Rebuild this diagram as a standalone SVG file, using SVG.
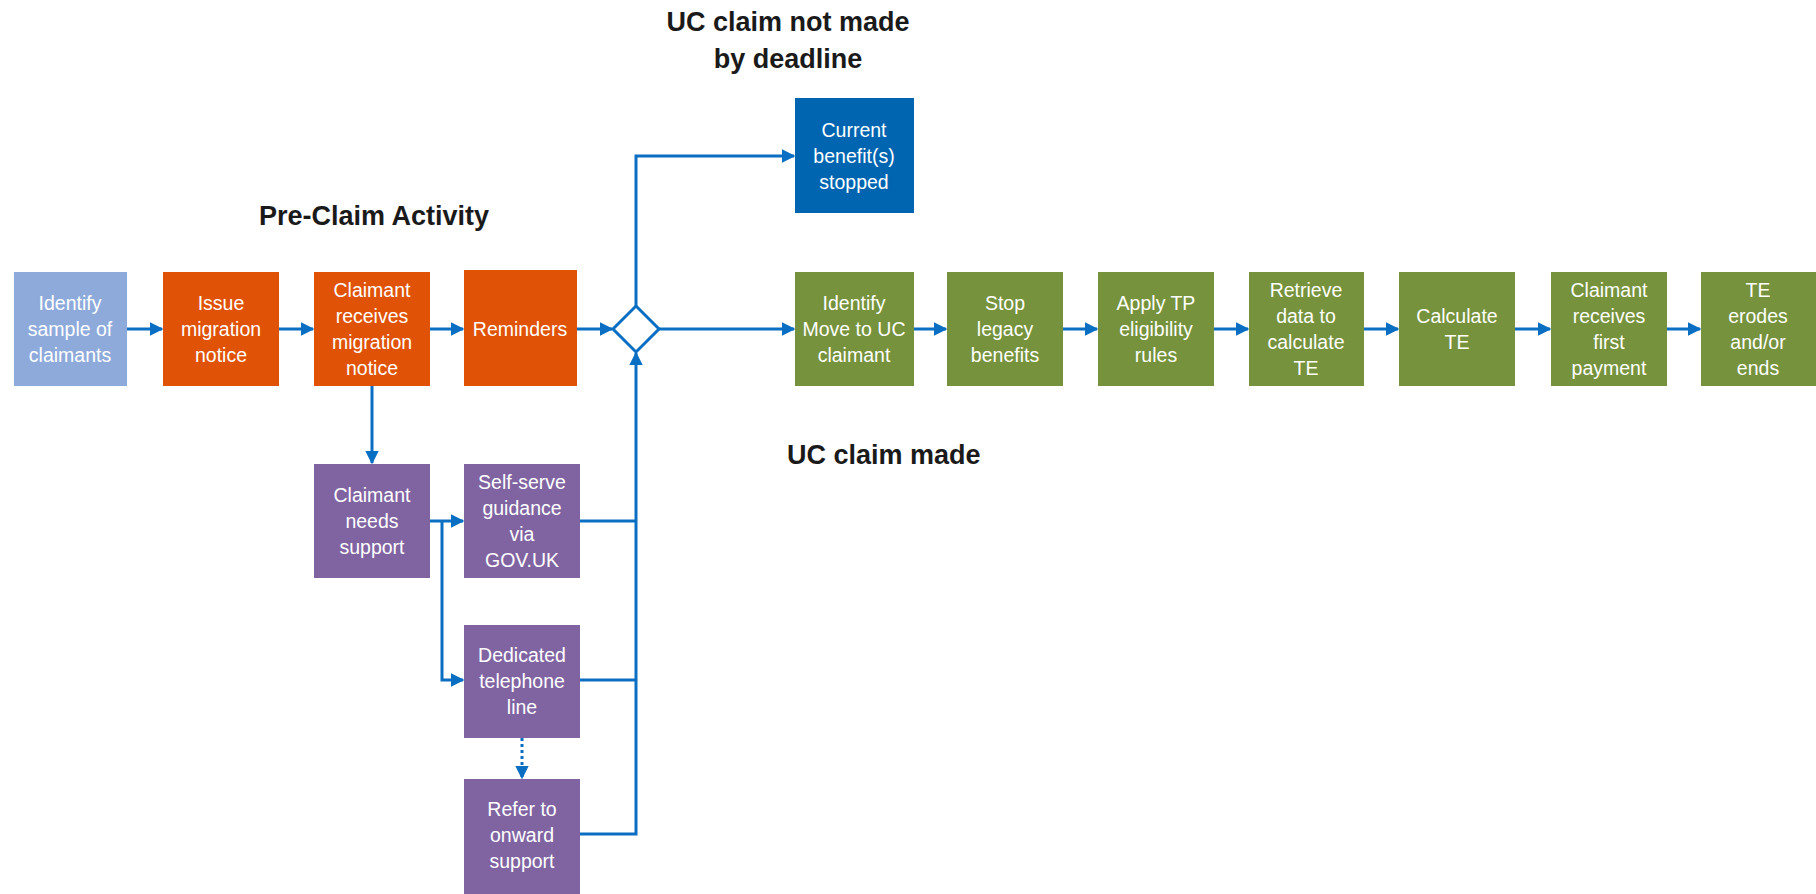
<svg xmlns="http://www.w3.org/2000/svg" width="1816" height="894" viewBox="0 0 1816 894">
<style>
.t{font-family:"Liberation Sans",Arial,sans-serif;font-size:19.5px;fill:#fff;text-anchor:middle}
.h{font-family:"Liberation Sans",Arial,sans-serif;font-size:27px;font-weight:bold;fill:#1a1a1a}
.c{fill:none;stroke:#0a6fc2;stroke-width:3}
.lb{fill:#8eaadb}.or{fill:#e05206}.gr{fill:#76923c}.bl{fill:#0065b1}.pu{fill:#8064a2}
</style>
<defs>
<marker id="a" viewBox="0 0 10 10" refX="9" refY="5" markerWidth="4.5" markerHeight="4.5" orient="auto" markerUnits="strokeWidth">
<path d="M0,0 L10,5 L0,10 z" fill="#0a6fc2"/>
</marker>
</defs>
<rect width="1816" height="894" fill="#fff"/>
<text class="h" x="788" y="31" text-anchor="middle">UC claim not made</text>
<text class="h" x="788" y="68" text-anchor="middle">by deadline</text>
<text class="h" x="374" y="225" text-anchor="middle">Pre-Claim Activity</text>
<text class="h" x="787" y="464">UC claim made</text>

<g id="connectors">
<line class="c" x1="127" y1="329" x2="162" y2="329" marker-end="url(#a)"/>
<line class="c" x1="279" y1="329" x2="313" y2="329" marker-end="url(#a)"/>
<line class="c" x1="430" y1="329" x2="463" y2="329" marker-end="url(#a)"/>
<line class="c" x1="577" y1="329" x2="612" y2="329" marker-end="url(#a)"/>
<line class="c" x1="659" y1="329" x2="794" y2="329" marker-end="url(#a)"/>
<polyline class="c" points="636,306 636,156 794,156" marker-end="url(#a)"/>
<line class="c" x1="914" y1="329" x2="946" y2="329" marker-end="url(#a)"/>
<line class="c" x1="1063" y1="329" x2="1097" y2="329" marker-end="url(#a)"/>
<line class="c" x1="1214" y1="329" x2="1248" y2="329" marker-end="url(#a)"/>
<line class="c" x1="1364" y1="329" x2="1398" y2="329" marker-end="url(#a)"/>
<line class="c" x1="1515" y1="329" x2="1550" y2="329" marker-end="url(#a)"/>
<line class="c" x1="1667" y1="329" x2="1700" y2="329" marker-end="url(#a)"/>
<line class="c" x1="372" y1="386" x2="372" y2="463" marker-end="url(#a)"/>
<line class="c" x1="430" y1="521" x2="463" y2="521" marker-end="url(#a)"/>
<polyline class="c" points="442,521 442,680 463,680" marker-end="url(#a)"/>
<line class="c" x1="522" y1="738" x2="522" y2="778" stroke-dasharray="3,3" marker-end="url(#a)"/>
<line class="c" x1="580" y1="521" x2="636" y2="521"/>
<line class="c" x1="580" y1="680" x2="636" y2="680"/>
<polyline class="c" points="580,834 636,834 636,353" marker-end="url(#a)"/>
</g>

<g id="diamond"><path d="M636,306 L659,329 L636,352 L613,329 z" fill="#fff" stroke="#0a6fc2" stroke-width="3"/></g>

<g id="n1"><rect class="lb" x="14" y="272" width="113" height="114"/>
<text class="t" x="70" y="310">Identify</text><text class="t" x="70" y="336">sample of</text><text class="t" x="70" y="362">claimants</text></g>
<g id="n2"><rect class="or" x="163" y="272" width="116" height="114"/>
<text class="t" x="221" y="310">Issue</text><text class="t" x="221" y="336">migration</text><text class="t" x="221" y="362">notice</text></g>
<g id="n3"><rect class="or" x="314" y="272" width="116" height="114"/>
<text class="t" x="372" y="297">Claimant</text><text class="t" x="372" y="323">receives</text><text class="t" x="372" y="349">migration</text><text class="t" x="372" y="375">notice</text></g>
<g id="n4"><rect class="or" x="464" y="270" width="113" height="116"/>
<text class="t" x="520" y="336">Reminders</text></g>

<g id="n5"><rect class="bl" x="795" y="98" width="119" height="115"/>
<text class="t" x="854" y="137">Current</text><text class="t" x="854" y="163">benefit(s)</text><text class="t" x="854" y="189">stopped</text></g>

<g id="n6"><rect class="gr" x="795" y="272" width="119" height="114"/>
<text class="t" x="854" y="310">Identify</text><text class="t" x="854" y="336">Move to UC</text><text class="t" x="854" y="362">claimant</text></g>
<g id="n7"><rect class="gr" x="947" y="272" width="116" height="114"/>
<text class="t" x="1005" y="310">Stop</text><text class="t" x="1005" y="336">legacy</text><text class="t" x="1005" y="362">benefits</text></g>
<g id="n8"><rect class="gr" x="1098" y="272" width="116" height="114"/>
<text class="t" x="1156" y="310">Apply TP</text><text class="t" x="1156" y="336">eligibility</text><text class="t" x="1156" y="362">rules</text></g>
<g id="n9"><rect class="gr" x="1249" y="272" width="115" height="114"/>
<text class="t" x="1306" y="297">Retrieve</text><text class="t" x="1306" y="323">data to</text><text class="t" x="1306" y="349">calculate</text><text class="t" x="1306" y="375">TE</text></g>
<g id="n10"><rect class="gr" x="1399" y="272" width="116" height="114"/>
<text class="t" x="1457" y="323">Calculate</text><text class="t" x="1457" y="349">TE</text></g>
<g id="n11"><rect class="gr" x="1551" y="272" width="116" height="114"/>
<text class="t" x="1609" y="297">Claimant</text><text class="t" x="1609" y="323">receives</text><text class="t" x="1609" y="349">first</text><text class="t" x="1609" y="375">payment</text></g>
<g id="n12"><rect class="gr" x="1701" y="272" width="115" height="114"/>
<text class="t" x="1758" y="297">TE</text><text class="t" x="1758" y="323">erodes</text><text class="t" x="1758" y="349">and/or</text><text class="t" x="1758" y="375">ends</text></g>

<g id="n13"><rect class="pu" x="314" y="464" width="116" height="114"/>
<text class="t" x="372" y="502">Claimant</text><text class="t" x="372" y="528">needs</text><text class="t" x="372" y="554">support</text></g>
<g id="n14"><rect class="pu" x="464" y="464" width="116" height="114"/>
<text class="t" x="522" y="489">Self-serve</text><text class="t" x="522" y="515">guidance</text><text class="t" x="522" y="541">via</text><text class="t" x="522" y="567">GOV.UK</text></g>
<g id="n15"><rect class="pu" x="464" y="625" width="116" height="113"/>
<text class="t" x="522" y="661.5">Dedicated</text><text class="t" x="522" y="687.5">telephone</text><text class="t" x="522" y="713.5">line</text></g>
<g id="n16"><rect class="pu" x="464" y="779" width="116" height="115"/>
<text class="t" x="522" y="816">Refer to</text><text class="t" x="522" y="842">onward</text><text class="t" x="522" y="868">support</text></g>
</svg>
